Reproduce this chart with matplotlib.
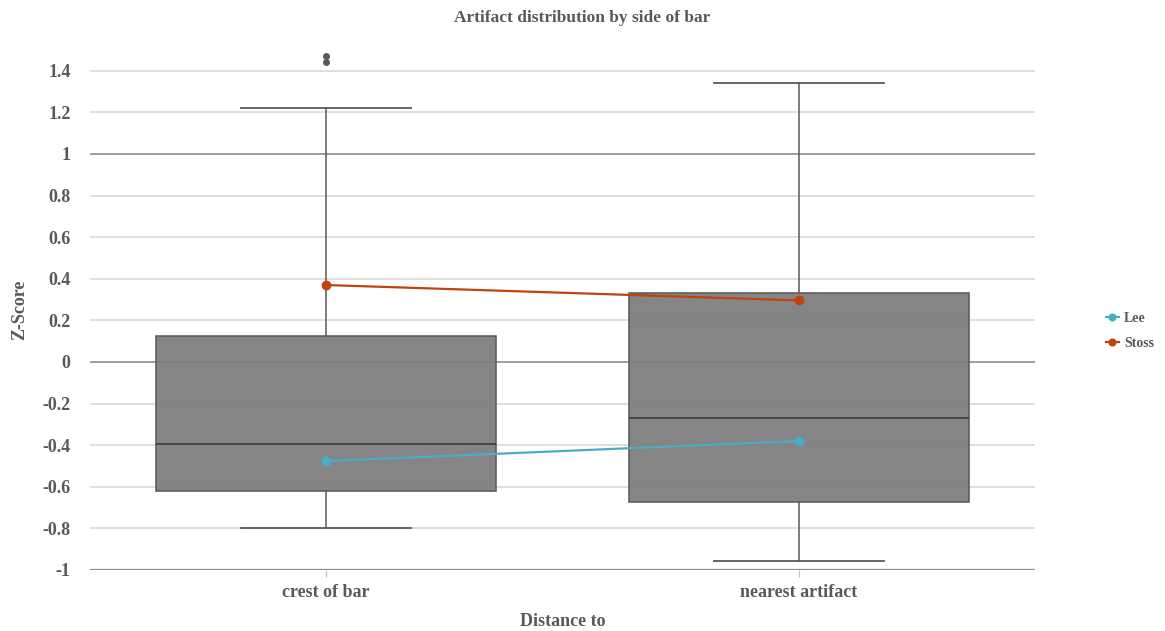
import matplotlib.pyplot as plt

categories = ['crest of bar', 'nearest artifact']
box_q1 = [-0.62, -0.673]
box_med = [-0.394, -0.27]
box_q3 = [0.127, 0.33]
whisk_lo = [-0.80, -0.957]
whisk_hi = [1.222, 1.342]
outliers = [[1.443, 1.472], []]
lee = [-0.476, -0.38]
stoss = [0.37, 0.296]
yticks = [-1, -0.8, -0.6, -0.4, -0.2, 0, 0.2, 0.4, 0.6, 0.8, 1, 1.2, 1.4]
ytick_labels = ['-1', '-0.8', '-0.6', '-0.4', '-0.2', '0', '0.2', '0.4', '0.6', '0.8', '1', '1.2', '1.4']

plt.rcParams['font.family'] = ['Liberation Serif', 'DejaVu Serif']
txt = '#595959'

fig = plt.figure(figsize=(11.65, 6.31), dpi=100)
ax = fig.add_axes([90 / 1165, 1 - 570 / 631, 945 / 1165, 520 / 631])

# gridlines
for t in yticks:
    if t in (0, 1):
        ax.axhline(t, color='#8c8c8c', lw=1.2, zorder=0)
    elif t == -1:
        ax.axhline(t, color='#8c8c8c', lw=1.6, zorder=0)
    else:
        ax.axhline(t, color='#d9d9d9', lw=1.2, zorder=0)

stats = []
for i in range(len(categories)):
    stats.append({'q1': box_q1[i], 'med': box_med[i], 'q3': box_q3[i],
                  'whislo': whisk_lo[i], 'whishi': whisk_hi[i],
                  'fliers': outliers[i], 'label': categories[i]})

bp = ax.bxp(stats, positions=range(len(categories)), widths=0.72,
            patch_artist=True, showfliers=True, manage_ticks=False,
            boxprops=dict(facecolor='#7f7f7f', edgecolor='#5a5a5a', lw=1.2, alpha=0.95),
            medianprops=dict(color='#404040', lw=1.3),
            whiskerprops=dict(color='#595959', lw=1.1),
            capprops=dict(color='#595959', lw=1.3),
            capwidths=0.36,
            flierprops=dict(marker='o', markersize=4, markerfacecolor='#595959',
                            markeredgecolor='#595959'))
for b in bp['boxes']:
    b.set_zorder(2)

x = range(len(categories))
ax.plot(x, lee, color='#4bacc6', lw=1.6, marker='o', markersize=6, zorder=4, label='Lee')
ax.plot(x, stoss, color='#c0420c', lw=1.6, marker='o', markersize=6, zorder=4, label='Stoss')

ax.set_xlim(-0.5, 1.5)
ax.set_ylim(-1, 1.5)
ax.set_yticks(yticks)
ax.set_yticklabels(ytick_labels)
ax.set_xticks(list(x))
ax.set_xticklabels(categories)
for s in ax.spines.values():
    s.set_visible(False)
ax.tick_params(axis='y', length=0, pad=14, labelsize=13, labelcolor=txt)
ax.tick_params(axis='x', length=5, color='#bfbfbf', pad=5, labelsize=13, labelcolor=txt)
for lab in ax.get_yticklabels() + ax.get_xticklabels():
    lab.set_fontweight('bold')

ax.set_xlabel('Distance to', fontsize=13, fontweight='bold', color=txt, labelpad=9)
ax.set_ylabel('Z-Score', fontsize=13, fontweight='bold', color=txt, labelpad=10)
fig.text(0.5, 1 - 18 / 631, 'Artifact distribution by side of bar', ha='center', va='center',
         fontsize=12.5, fontweight='bold', color=txt)

leg = ax.legend(loc='center left', bbox_to_anchor=(1.062, 0.46), frameon=False,
                handlelength=0.9, handletextpad=0.4, markerscale=0.8, labelspacing=0.9,
                prop={'size': 10, 'weight': 'bold'})
for t in leg.get_texts():
    t.set_color(txt)

fig.savefig('out.png', dpi=100)
